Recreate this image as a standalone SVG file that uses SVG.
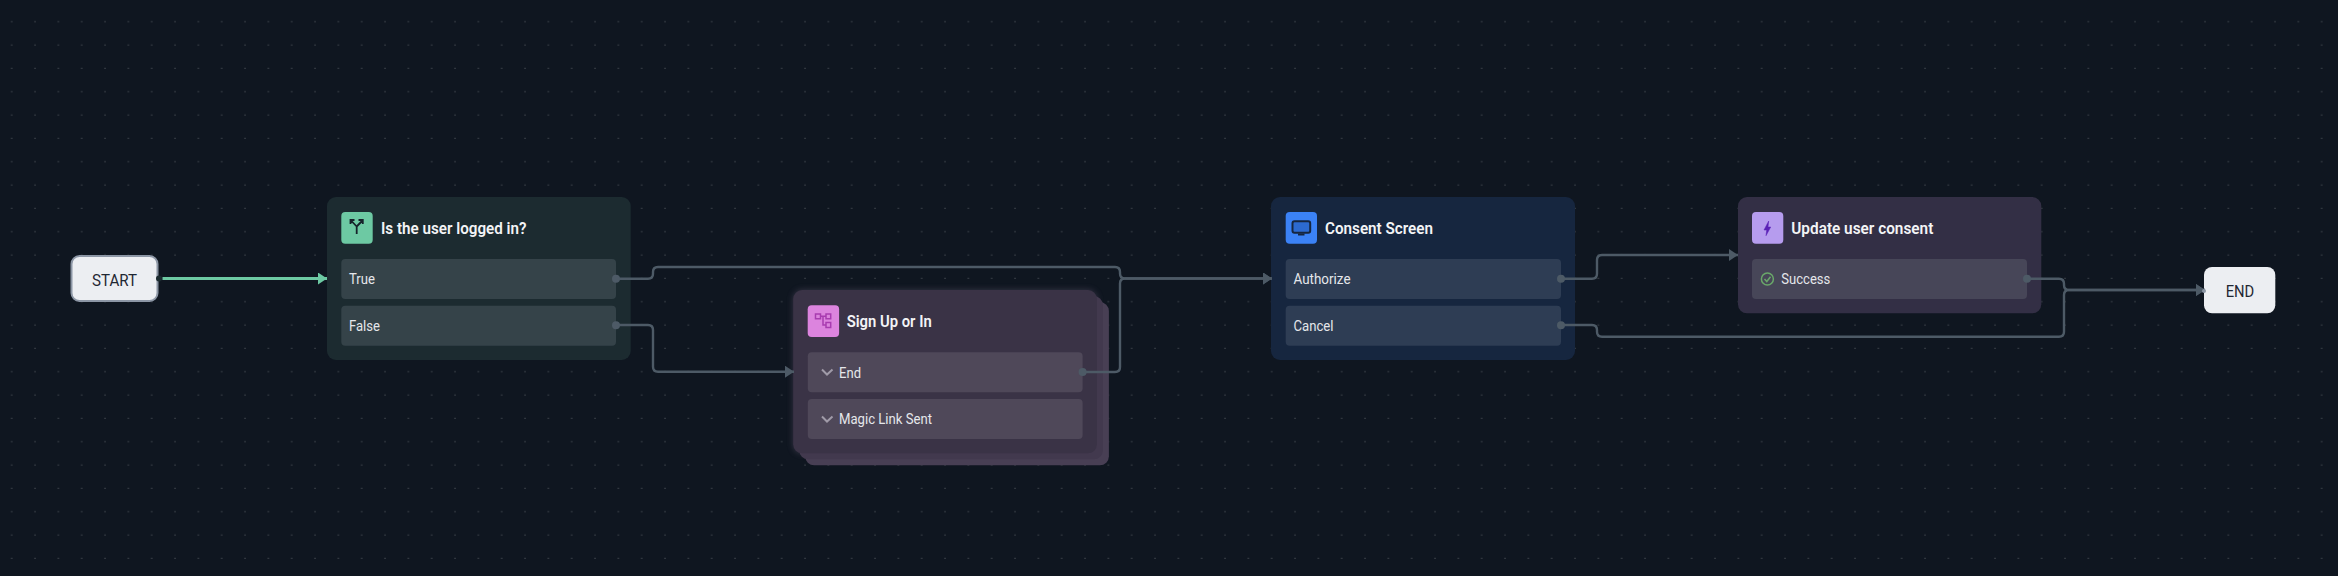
<svg xmlns="http://www.w3.org/2000/svg" width="2338" height="576" viewBox="0 0 2338 576">
<style>
.title{font-family:"Roboto","Liberation Sans",sans-serif;font-size:16.5px;font-weight:600;fill:#f3f4f6}
.row{font-family:"Roboto","Liberation Sans",sans-serif;font-size:14px;font-weight:400;fill:#e5e7eb}
.term{font-family:"Roboto","Liberation Sans",sans-serif;font-size:16px;font-weight:400;fill:#1f2733;text-anchor:middle}
.conn{fill:none;stroke:#4d5a66;stroke-width:2.4;marker-end:url(#arrow)}
.handle{fill:#4d5a66}
.chev{fill:none;stroke:#a09ba8;stroke-width:2}
</style>
<defs>
<pattern id="dots" width="23.333" height="23.333" patternUnits="userSpaceOnUse">
<rect x="11.2" y="21.2" width="1" height="1" fill="#5c6168"/>
</pattern>
<marker id="arrow" markerUnits="userSpaceOnUse" markerWidth="9" markerHeight="12" refX="9" refY="6" orient="auto"><path d="M0 0L9 6L0 12Z" fill="#4d5a66"/></marker>
<marker id="arrowGreen" markerUnits="userSpaceOnUse" markerWidth="9" markerHeight="12" refX="9" refY="6" orient="auto"><path d="M0 0L9 6L0 12Z" fill="#6dc9a3"/></marker>
<filter id="glow" x="-10%" y="-10%" width="120%" height="120%"><feGaussianBlur stdDeviation="3"/></filter>
</defs>
<rect width="2338" height="576" fill="#0f1620"/>
<rect width="2338" height="576" fill="url(#dots)"/>

<g id="node-start">
<rect x="71.5" y="256" width="86" height="45" rx="8" fill="#eceef2" stroke="#8c96a5" stroke-width="2"/>
<text class="term" x="114.5" y="286" textLength="45" lengthAdjust="spacingAndGlyphs">START</text>
<circle cx="159" cy="278.5" r="3" fill="#1c2b30"/>
</g>

<g id="node-logged-in">
<rect x="327" y="197" width="303.7" height="163" rx="9" fill="#1c2b30"/>
<rect x="341.3" y="212" width="31.4" height="31.7" rx="4" fill="#6dc9a3"/>
<path d="M356.7 234V226.5L351 220.5M356.7 226.5L362.5 220.5M350.5 224V220H354.5M358.5 220H362.8V224" fill="none" stroke="#16222a" stroke-width="1.8"/>
<text class="title" x="381" y="234" textLength="145.5" lengthAdjust="spacingAndGlyphs">Is the user logged in?</text>
<rect x="341.3" y="259" width="274.7" height="40" rx="4" fill="#354349"/>
<text class="row" x="349" y="284" textLength="26" lengthAdjust="spacingAndGlyphs">True</text>
<rect x="341.3" y="305.7" width="274.7" height="40" rx="4" fill="#354349"/>
<text class="row" x="349" y="330.5" textLength="31" lengthAdjust="spacingAndGlyphs">False</text>
</g>

<g id="node-signup">
<rect x="793.2" y="290" width="303.7" height="163.3" rx="9" fill="#5a4f68" opacity="0.55" filter="url(#glow)"/>
<rect x="805.2" y="302" width="303.7" height="163.3" rx="9" fill="#483f54"/>
<rect x="799.2" y="296" width="303.7" height="163.3" rx="9" fill="#42394e"/>
<rect x="793.2" y="290" width="303.7" height="163.3" rx="9" fill="#3a3346"/>
<rect x="807.7" y="305.3" width="31.4" height="31.7" rx="4" fill="#dc84de"/>
<path d="M815.5 314h5v4.7h-5zM826 314h4.7v4.7H826zM826 322.5h4.7v5H826zM820.5 316.3H826M823 316.3V325H826" fill="none" stroke="#a83cb0" stroke-width="1.5"/>
<text class="title" x="846.7" y="326.7" textLength="85" lengthAdjust="spacingAndGlyphs">Sign Up or In</text>
<rect x="807.8" y="352.3" width="274.8" height="40" rx="4" fill="#4f4859"/>
<path class="chev" d="M822 369.5L827 374.5L832.5 369.5"/>
<text class="row" x="839" y="378" textLength="22" lengthAdjust="spacingAndGlyphs">End</text>
<rect x="807.8" y="399" width="274.8" height="40" rx="4" fill="#4f4859"/>
<path class="chev" d="M822 416.5L827 421.5L832.5 416.5"/>
<text class="row" x="839" y="424" textLength="93" lengthAdjust="spacingAndGlyphs">Magic Link Sent</text>
</g>

<g id="node-consent">
<rect x="1271" y="197" width="304" height="163" rx="9" fill="#16263f"/>
<rect x="1285.7" y="212" width="31.3" height="31.7" rx="4" fill="#3b82f6"/>
<rect x="1292.5" y="221.3" width="17.7" height="11.4" rx="2" fill="#2c6ad0" stroke="#16263f" stroke-width="2"/>
<path d="M1298 233.5h6.5v2h-6.5z" fill="#16263f"/>
<text class="title" x="1325" y="234" textLength="108" lengthAdjust="spacingAndGlyphs">Consent Screen</text>
<rect x="1285.7" y="259" width="275.3" height="40" rx="4" fill="#2e3d54"/>
<text class="row" x="1293.5" y="284" textLength="57" lengthAdjust="spacingAndGlyphs">Authorize</text>
<rect x="1285.7" y="305.7" width="275.3" height="40" rx="4" fill="#2e3d54"/>
<text class="row" x="1293.5" y="330.5" textLength="40" lengthAdjust="spacingAndGlyphs">Cancel</text>
</g>

<g id="node-update">
<rect x="1738" y="197" width="303.3" height="116.3" rx="9" fill="#332f45"/>
<rect x="1752" y="212" width="31.3" height="31.7" rx="4" fill="#b69cee"/>
<path d="M1768.7 221L1764 230H1766.7L1766 235.7L1770.7 227H1768Z" fill="#5b21b6" stroke="#5b21b6" stroke-width="0.5"/>
<text class="title" x="1791.3" y="234" textLength="142" lengthAdjust="spacingAndGlyphs">Update user consent</text>
<rect x="1752" y="259" width="275" height="40" rx="4" fill="#474658"/>
<circle cx="1767.4" cy="279" r="6" fill="none" stroke="#6aa86a" stroke-width="1.5"/>
<path d="M1764.5 279L1766.8 281.5L1770.5 276.8" fill="none" stroke="#6aa86a" stroke-width="1.5"/>
<text class="row" x="1781.3" y="284" textLength="49" lengthAdjust="spacingAndGlyphs">Success</text>
</g>

<g id="node-end">
<rect x="2204" y="267" width="71.3" height="46.3" rx="8" fill="#eceef2"/>
<text class="term" x="2240" y="296.7" textLength="28.6" lengthAdjust="spacingAndGlyphs">END</text>
</g>

<g id="connectors">
<path d="M162.5 278.5H327" fill="none" stroke="#6dc9a3" stroke-width="3" marker-end="url(#arrowGreen)"/>
<path class="conn" d="M616 278.7H648Q653 278.7 653 273.7V272Q653 267 658 267H1115Q1120 267 1120 272V273.5Q1120 278.5 1125 278.5H1272"/>
<path class="conn" d="M616 325H648Q653 325 653 330V366.7Q653 371.7 658 371.7H794"/>
<path class="conn" d="M1082.6 372H1115Q1120 372 1120 367V283.5Q1120 278.5 1125 278.5H1272"/>
<path class="conn" d="M1561 278.7H1592Q1597 278.7 1597 273.7V260Q1597 255 1602 255H1738"/>
<path class="conn" d="M1561 325H1592Q1597 325 1597 330V331.7Q1597 336.7 1602 336.7H2059Q2064 336.7 2064 331.7V295Q2064 290 2069 290H2205"/>
<path class="conn" d="M2027 278.7H2059Q2064 278.7 2064 283.7V285Q2064 290 2069 290H2205"/>
<circle class="handle" cx="616" cy="278.7" r="4"/>
<circle class="handle" cx="616" cy="325.3" r="4"/>
<circle class="handle" cx="1082.6" cy="372" r="4"/>
<circle class="handle" cx="1561" cy="278.7" r="4"/>
<circle class="handle" cx="1561" cy="325.3" r="4"/>
<circle class="handle" cx="2027" cy="278.7" r="4"/>
<circle cx="2204" cy="291" r="2" fill="#8c96a5"/>
</g>
</svg>
